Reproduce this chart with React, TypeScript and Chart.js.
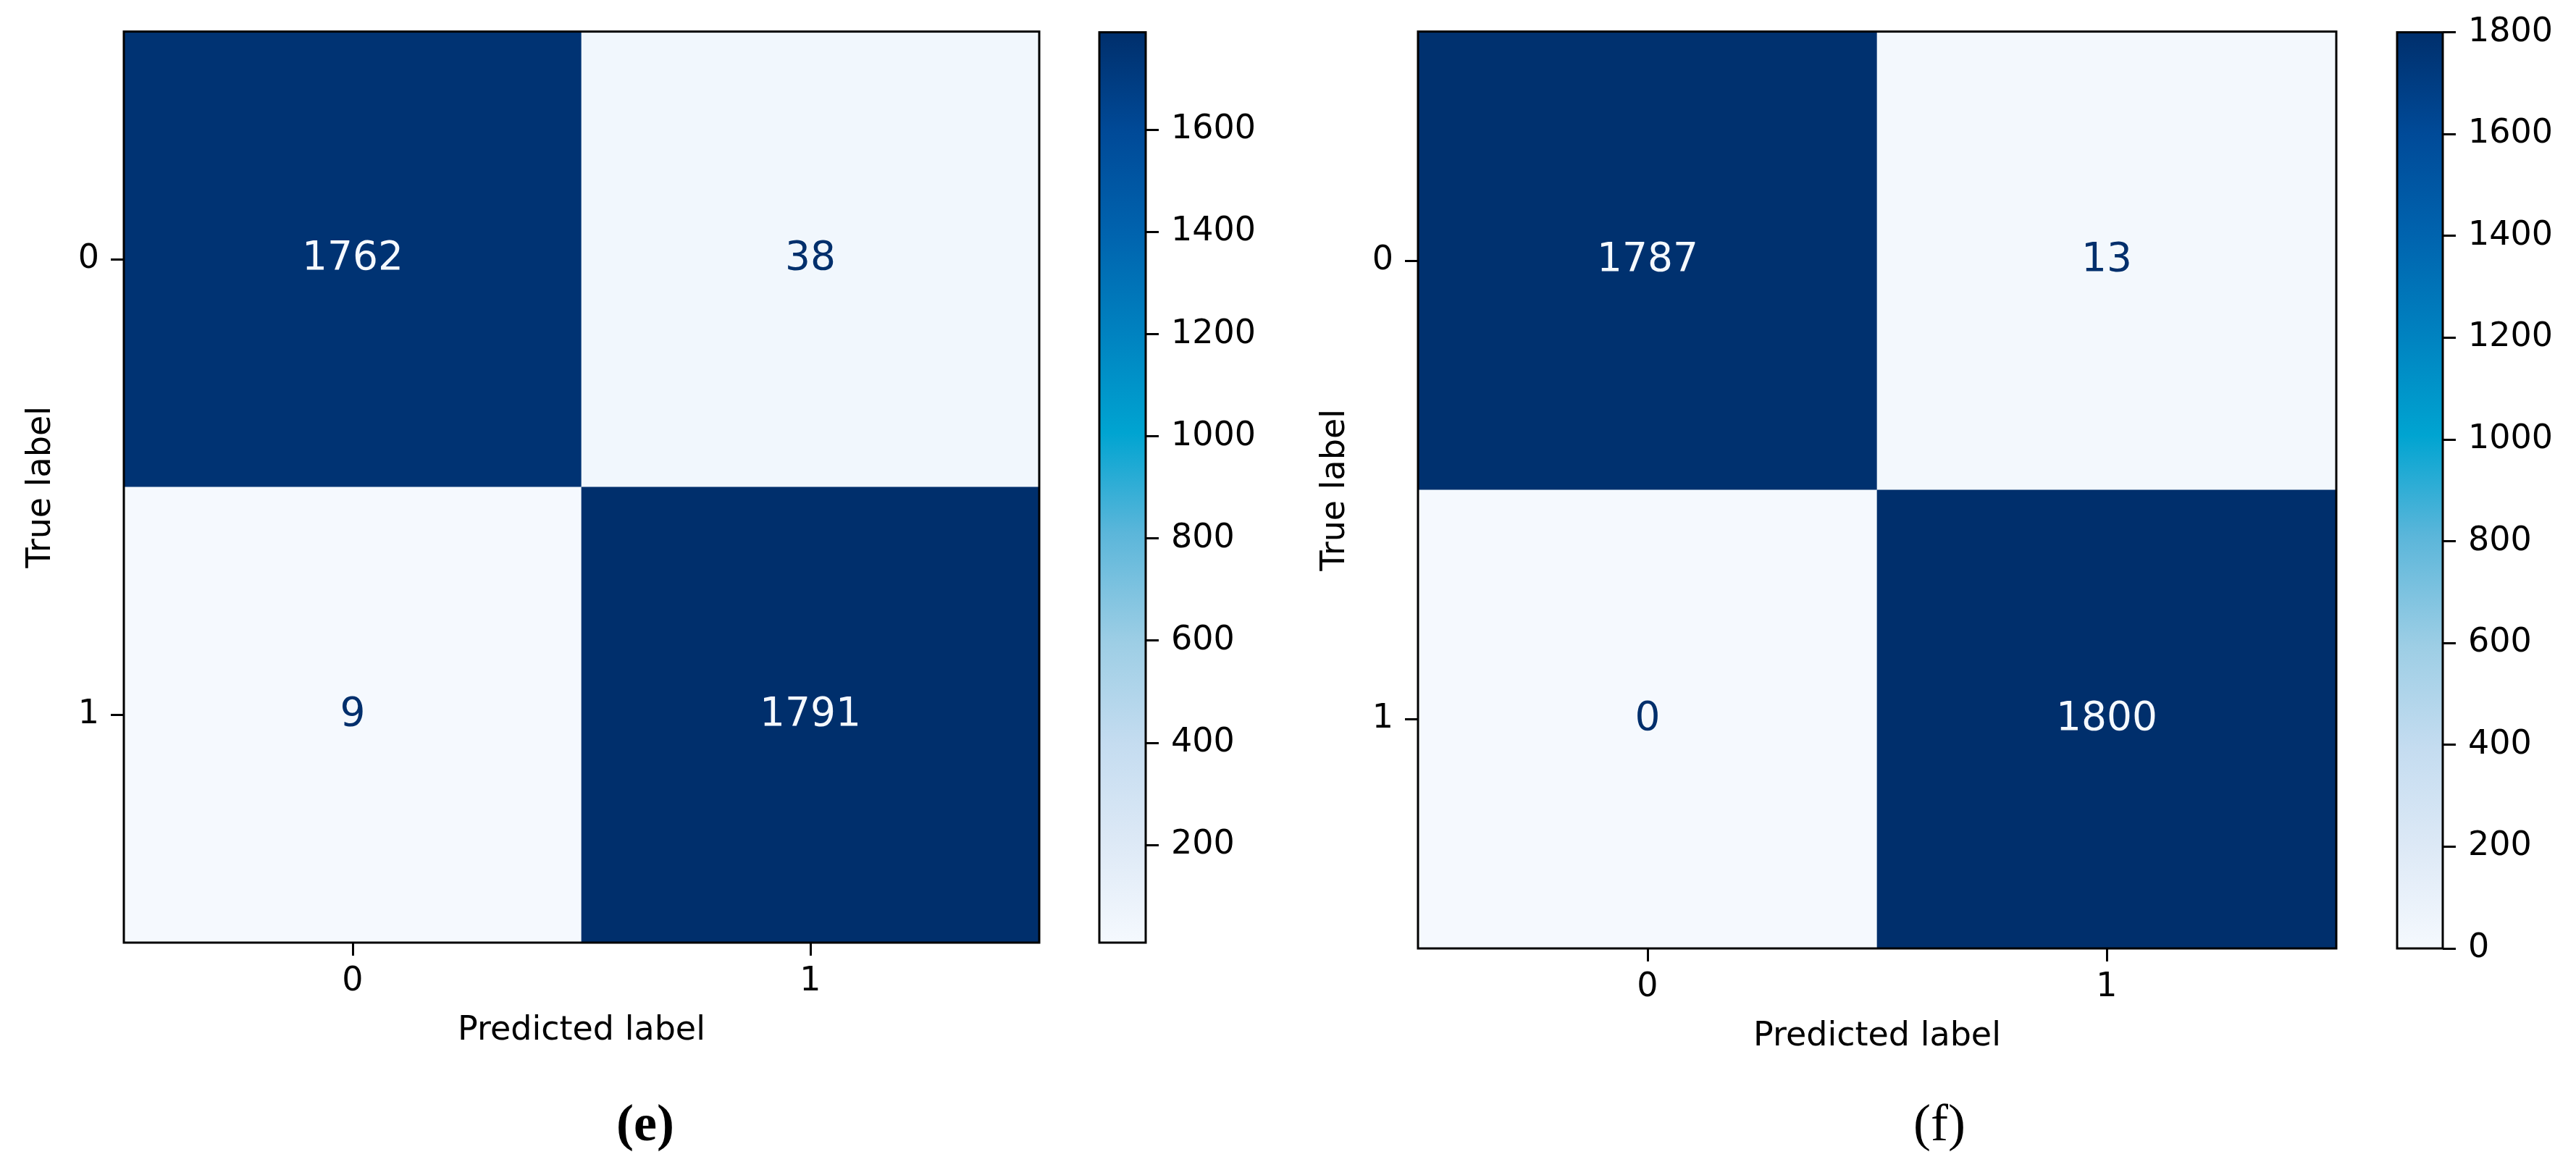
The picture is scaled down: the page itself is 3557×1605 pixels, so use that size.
import React, { useEffect, useRef } from "react";
import { Chart, registerables } from "chart.js";
Chart.register(...registerables);

// ---------------- data ----------------
const predictedLabels = ["0", "1"];
const trueLabels = ["0", "1"];
const matrixE = [
  [1762, 38],
  [9, 1791],
];
const matrixF = [
  [1787, 13],
  [0, 1800],
];
const colorbarTicksE = [200, 400, 600, 800, 1000, 1200, 1400, 1600];
const colorbarTicksF = [0, 200, 400, 600, 800, 1000, 1200, 1400, 1600, 1800];
const captionE = "(e)";
const captionF = "(f)";
const xTitle = "Predicted label";
const yTitle = "True label";

// ---------------- style ----------------
const cmapStops: [number, string][] = [
  [0, "#f5f9fe"],
  [0.11, "#dde9f6"],
  [0.22, "#c4dcf0"],
  [0.33, "#9dcee5"],
  [0.45, "#5bb6da"],
  [0.56, "#00a4d1"],
  [0.67, "#0082c0"],
  [0.78, "#0063ae"],
  [0.89, "#004a98"],
  [1, "#002f6c"],
];
const FONT = "'DejaVu Sans', sans-serif";
const TICK_SIZE = 46;
const CELL_SIZE = 55;
const LINE = 3;
const TICK_LEN = 18;

function hexRgb(h: string) {
  const n = parseInt(h.slice(1), 16);
  return [(n >> 16) & 255, (n >> 8) & 255, n & 255];
}
function cmap(t: number) {
  t = Math.max(0, Math.min(1, t));
  for (let i = 1; i < cmapStops.length; i++) {
    const [t1, c1] = cmapStops[i];
    if (t <= t1) {
      const [t0, c0] = cmapStops[i - 1];
      const f = (t - t0) / (t1 - t0);
      const a = hexRgb(c0);
      const b = hexRgb(c1);
      return `rgb(${a.map((v, k) => Math.round(v + (b[k] - v) * f)).join(",")})`;
    }
  }
  return cmapStops[cmapStops.length - 1][1];
}

function framePlugin(id: string) {
  return {
    id,
    afterDraw(chart: any) {
      const { ctx, chartArea: a } = chart;
      ctx.save();
      ctx.lineWidth = LINE;
      ctx.strokeStyle = "#000";
      ctx.strokeRect(a.left, a.top, a.right - a.left, a.bottom - a.top);
      ctx.restore();
    },
  };
}

function makeMatrixConfig(matrix: number[][], canvasW: number, canvasH: number, plotW: number, plotH: number) {
  const flat = matrix.flatMap((r) => r);
  const vmin = Math.min(...flat);
  const vmax = Math.max(...flat);
  const thresh = (vmin + vmax) / 2;
  const data: any[] = [];
  const colors: string[] = [];
  matrix.forEach((row, r) =>
    row.forEach((v, c) => {
      data.push({ x: predictedLabels[c], y: [r - 0.5, r + 0.5], v });
      colors.push(cmap((v - vmin) / (vmax - vmin)));
    })
  );
  const yAxisW = 171;
  const xAxisH = 178;
  const padRight = canvasW - yAxisW - plotW;
  const padTop = canvasH - xAxisH - plotH;
  const cellText = {
    id: "cellText",
    afterDatasetsDraw(chart: any) {
      const { ctx } = chart;
      const meta = chart.getDatasetMeta(0);
      ctx.save();
      ctx.font = `${CELL_SIZE}px ${FONT}`;
      ctx.textAlign = "center";
      ctx.textBaseline = "middle";
      meta.data.forEach((bar: any, i: number) => {
        const raw = data[i];
        const p = bar.getCenterPoint();
        ctx.fillStyle = raw.v >= thresh ? cmap(0) : cmap(1);
        ctx.fillText(String(raw.v), p.x, p.y);
      });
      ctx.restore();
    },
  };
  const grid = {
    drawOnChartArea: false,
    drawTicks: true,
    tickLength: TICK_LEN,
    color: "#000",
    lineWidth: LINE,
    offset: false,
  };
  return {
    type: "bar",
    data: {
      labels: predictedLabels,
      datasets: [
        {
          data,
          backgroundColor: colors,
          borderWidth: 0,
          barPercentage: 1,
          categoryPercentage: 1,
        },
      ],
    },
    options: {
      responsive: false,
      animation: false,
      devicePixelRatio: 1,
      events: [],
      layout: { padding: { left: 0, top: padTop, right: padRight, bottom: 0 } },
      plugins: { legend: { display: false }, tooltip: { enabled: false } },
      scales: {
        x: {
          type: "category",
          offset: true,
          grid,
          border: { display: false },
          ticks: { color: "#000", font: { family: FONT, size: TICK_SIZE }, padding: 8, maxRotation: 0 },
          title: {
            display: true,
            text: xTitle,
            color: "#000",
            font: { family: FONT, size: TICK_SIZE },
            padding: { top: 0, bottom: 28 },
          },
          afterFit: (s: any) => {
            s.height = xAxisH;
          },
        },
        y: {
          type: "linear",
          min: -0.5,
          max: 1.5,
          reverse: true,
          beginAtZero: false,
          grid,
          border: { display: false },
          afterBuildTicks: (s: any) => {
            s.ticks = trueLabels.map((_, i) => ({ value: i }));
          },
          ticks: {
            color: "#000",
            font: { family: FONT, size: TICK_SIZE },
            padding: 16,
            callback: (_v: any, i: number) => trueLabels[i],
          },
          title: {
            display: true,
            text: yTitle,
            color: "#000",
            font: { family: FONT, size: TICK_SIZE },
            padding: { top: 29, bottom: 0 },
          },
          afterFit: (s: any) => {
            s.width = yAxisW;
          },
        },
      },
    },
    plugins: [cellText, framePlugin("matrixFrame")],
  };
}

function makeColorbarConfig(
  vmin: number,
  vmax: number,
  ticks: number[],
  canvasW: number,
  canvasH: number,
  barLeft: number,
  barW: number,
  barH: number
) {
  const axisW = canvasW - barLeft - barW;
  const padBottom = 178;
  const padTop = canvasH - padBottom - barH;
  return {
    type: "bar",
    data: {
      labels: [""],
      datasets: [
        {
          data: [[vmin, vmax]],
          borderWidth: 0,
          barPercentage: 1,
          categoryPercentage: 1,
          backgroundColor: (context: any) => {
            const { ctx, chartArea: a } = context.chart;
            if (!a) return cmap(1);
            const g = ctx.createLinearGradient(0, a.bottom, 0, a.top);
            cmapStops.forEach(([t, c]) => g.addColorStop(t, c));
            return g;
          },
        },
      ],
    },
    options: {
      responsive: false,
      animation: false,
      devicePixelRatio: 1,
      events: [],
      layout: { padding: { left: barLeft, top: padTop, right: 0, bottom: padBottom } },
      plugins: { legend: { display: false }, tooltip: { enabled: false } },
      scales: {
        x: { display: false },
        y: {
          position: "right",
          min: vmin,
          max: vmax,
          beginAtZero: false,
          afterBuildTicks: (s: any) => {
            s.ticks = ticks.map((v) => ({ value: v }));
          },
          grid: { drawOnChartArea: false, drawTicks: true, tickLength: TICK_LEN, color: "#000", lineWidth: LINE },
          border: { display: false },
          ticks: {
            color: "#000",
            font: { family: FONT, size: TICK_SIZE },
            padding: 17,
            callback: (v: any) => String(v),
          },
          afterFit: (s: any) => {
            s.width = axisW;
          },
        },
      },
    },
    plugins: [framePlugin("cbFrame")],
  };
}

function ChartCanvas({ make, left, top, width, height }: any) {
  const ref = useRef<HTMLCanvasElement>(null);
  useEffect(() => {
    const chart = new Chart(ref.current as HTMLCanvasElement, make());
    return () => chart.destroy();
  }, []);
  return (
    <canvas
      ref={ref}
      width={width}
      height={height}
      style={{ position: "absolute", left, top, width, height }}
    />
  );
}

function Caption({ text, cx, bold }: { text: string; cx: number; bold: boolean }) {
  return (
    <div
      style={{
        position: "absolute",
        left: cx - 200,
        width: 400,
        top: 1515,
        textAlign: "center",
        fontFamily: "'Liberation Serif', 'Times New Roman', serif",
        fontSize: 72,
        lineHeight: "72px",
        fontWeight: bold ? "bold" : "normal",
        color: "#000",
      }}
    >
      {text}
    </div>
  );
}

export default function App() {
  const flatE = matrixE.flatMap((r) => r);
  const flatF = matrixF.flatMap((r) => r);
  return (
    <div
      style={{
        position: "absolute",
        left: 0,
        top: 0,
        width: 3557,
        height: 1605,
        background: "#fff",
        overflow: "hidden",
      }}
    >
      <ChartCanvas
        left={0}
        top={0}
        width={1470}
        height={1480}
        make={() => makeMatrixConfig(matrixE, 1470, 1480, 1264, 1260)}
      />
      <ChartCanvas
        left={1500}
        top={0}
        width={300}
        height={1480}
        make={() =>
          makeColorbarConfig(Math.min(...flatE), Math.max(...flatE), colorbarTicksE, 300, 1480, 18, 64, 1260)
        }
      />
      <ChartCanvas
        left={1787}
        top={0}
        width={1474}
        height={1488}
        make={() => makeMatrixConfig(matrixF, 1474, 1488, 1268, 1268)}
      />
      <ChartCanvas
        left={3292}
        top={0}
        width={265}
        height={1488}
        make={() =>
          makeColorbarConfig(Math.min(...flatF), Math.max(...flatF), colorbarTicksF, 265, 1488, 18, 63, 1268)
        }
      />
      <Caption text={captionE} cx={891} bold={true} />
      <Caption text={captionF} cx={2678} bold={false} />
    </div>
  );
}
